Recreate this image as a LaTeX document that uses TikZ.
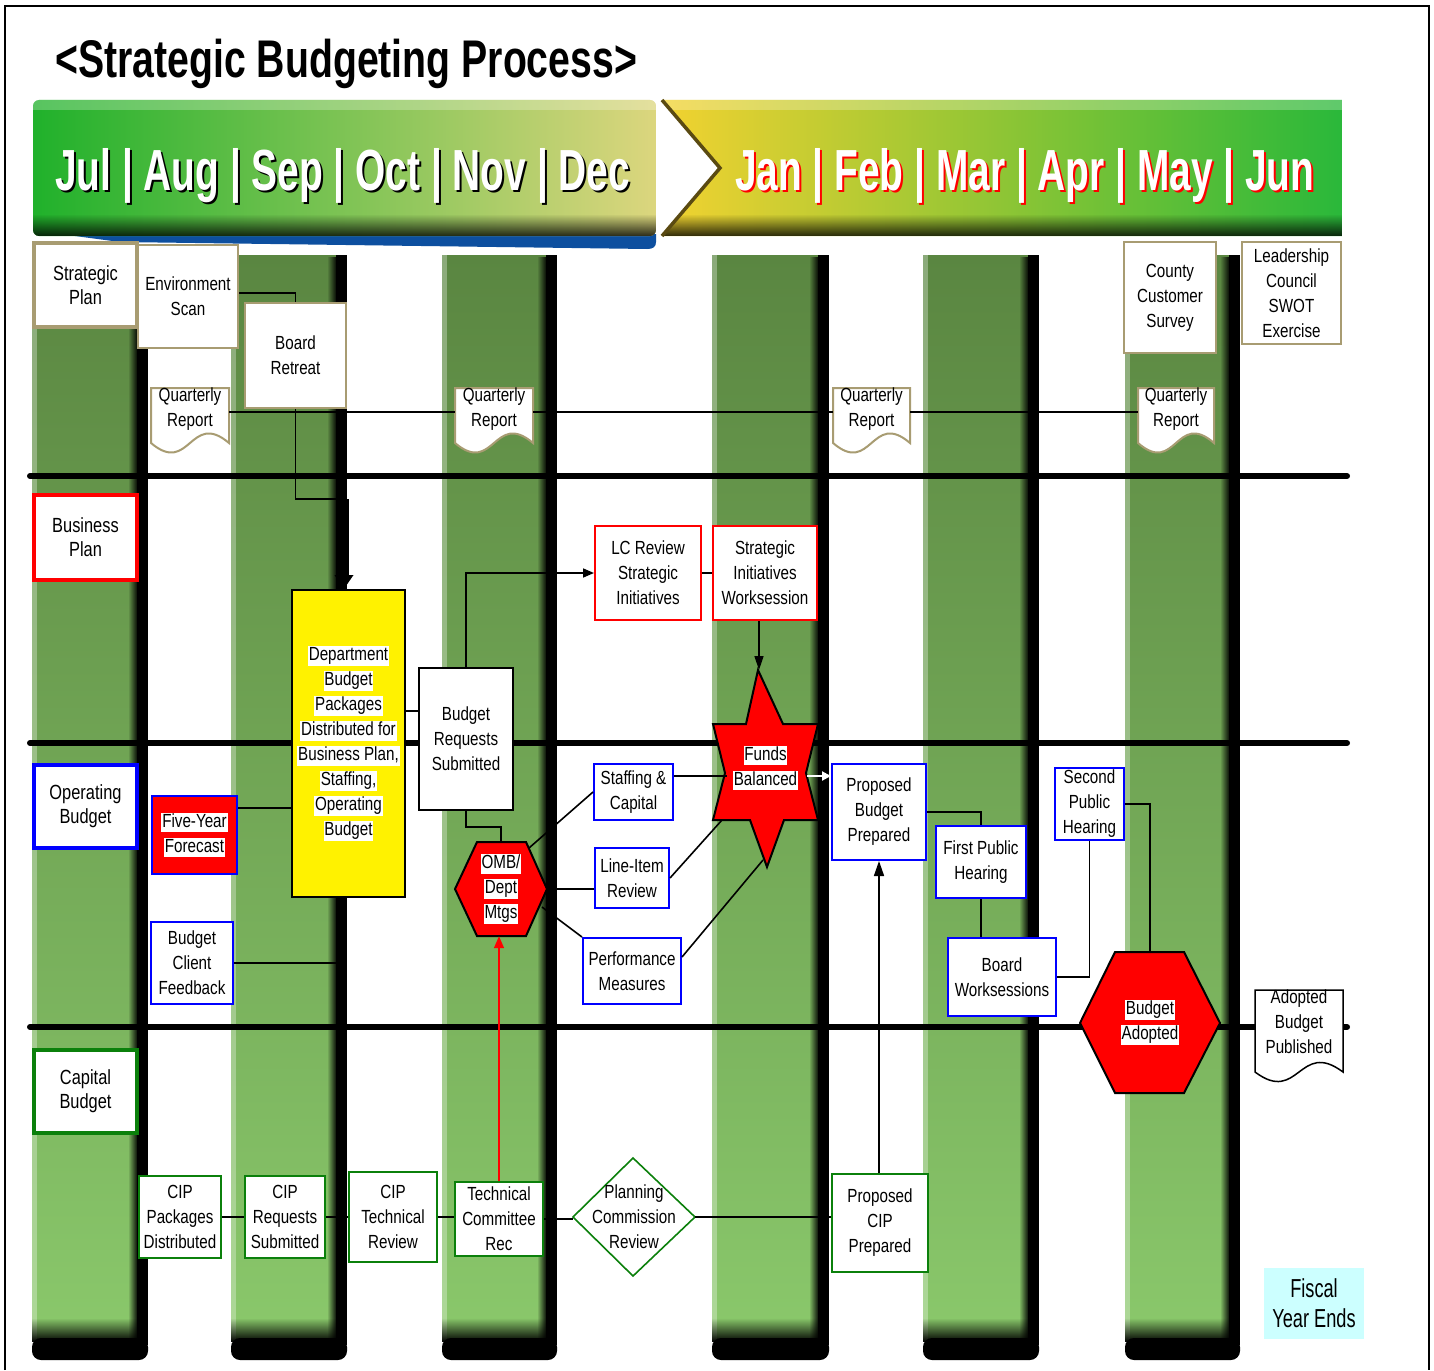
\documentclass[tikz,border=0pt]{standalone}
\usepackage{fontspec}
\setmainfont{Liberation Sans}
\newfontfamily\boxfont{Liberation Sans}[FakeStretch=0.8]
\newfontfamily\narrowfont{Liberation Sans}[FakeStretch=0.7]
\newfontfamily\titlefont{Liberation Sans}[FakeStretch=0.74]
\newfontfamily\monthfont{Liberation Sans}[FakeStretch=0.67]
\usetikzlibrary{calc,arrows.meta,fadings}

\definecolor{khaki}{HTML}{A89C72}
\definecolor{coltop}{HTML}{5A8641}
\definecolor{colbot}{HTML}{8AC86B}
\definecolor{bnA}{HTML}{20B12B}
\definecolor{bnB}{HTML}{8EC657}
\definecolor{bnC}{HTML}{DCD67E}
\definecolor{yA}{HTML}{F2D230}
\definecolor{yB}{HTML}{9CCA3E}
\definecolor{yC}{HTML}{2AB83A}
\definecolor{bandblue}{HTML}{0D4F9F}
\definecolor{boxgreen}{HTML}{0B800B}
\definecolor{fiscal}{HTML}{CCFFFF}
\definecolor{notch}{HTML}{5A4A12}

\tikzfading[name=darkright, left color=transparent!100, right color=transparent!0]
\tikzfading[name=darkdown, top color=transparent!100, bottom color=transparent!0]

% white strip behind a line of text
\newcommand\whitebg[1]{{\setlength{\fboxsep}{0.8pt}\colorbox{white}{\rule[-0.22em]{0pt}{0.95em}#1}}}

% one green time column with its dark right edge and rounded foot
\newcommand\lanecol[2]{%
  \shade[top color=coltop, bottom color=colbot] (#1,255) rectangle (#2,1340);
  \fill[white, opacity=0.3] (#1,255) rectangle ({#1+5},1340);
  \fill[black, path fading=darkright] ({#2-9},255) rectangle ({#2+1},1340);
  \fill[black, path fading=darkdown] (#1,1318) rectangle ({#2+1},1342);
  \fill[black] (#2,255) rectangle ({#2+11},1345);
  \fill[black, rounded corners=9] (#1,1338) rectangle ({#2+11},1360);
}

% document symbol: x-left, x-right, top, height of the bottom corners, style
\newcommand\docshape[5]{%
  \filldraw[#5] (#1,#3) -- (#2,#3) -- (#2,#4)
    .. controls ({(#1+#2)/2},{#4-33}) and ({(#1+#2)/2},{#4+33}) .. (#1,#4) -- cycle;}

\tikzset{
  boxtext/.style={inner sep=0pt, align=center, font=\boxfont\fontsize{19}{25}\selectfont},
  lanetext/.style={inner sep=0pt, align=center, font=\boxfont\fontsize{20.5}{24}\selectfont},
  kbox/.style={boxtext, draw=khaki, fill=white, line width=2.5},
  rbox/.style={boxtext, draw=red, fill=white, line width=2},
  bbox/.style={boxtext, draw=blue, fill=white, line width=2},
  gbox/.style={boxtext, draw=boxgreen, fill=white, line width=2},
  blackbox/.style={boxtext, draw=black, fill=white, line width=2},
  doctext/.style={boxtext},
  lanerule/.style={line width=6, line cap=round},
  conn/.style={line width=1.6, black},
  tip/.style={-{Triangle[width=9pt,length=11pt]}},
}

\begin{document}
\begin{tikzpicture}[x=1pt, y=-1pt]
\useasboundingbox (0,0) rectangle (1434,1370);
\fill[white] (0,0) rectangle (1434,1370);

% ---------- time columns ----------
\lanecol{32}{137}
\lanecol{231}{336}
\lanecol{442}{546}
\lanecol{712}{818}
\lanecol{923}{1028}
\lanecol{1125}{1229}

% ---------- title ----------
\node[anchor=base west, inner sep=0, font=\titlefont\bfseries\fontsize{53}{53}\selectfont] (title) at (55,78) {<Strategic Budgeting Process>};

% ---------- first half-year banner ----------
\fill[bandblue] (60,234) -- (656,234) -- (656,242) .. controls (656,247) and (653,249) .. (647,249) -- (120,242) -- cycle;
\begin{scope}
  \clip[rounded corners=6] (33,100) rectangle (656,236);
  \shade[left color=bnA, middle color=bnB, right color=bnC] (33,100) rectangle (656,236);
  \fill[white, opacity=0.25] (33,100) rectangle (656,110);
  \fill[black, path fading=darkdown, opacity=0.8] (33,214) rectangle (656,236);
\end{scope}
\node[anchor=base west, inner sep=0, font=\monthfont\bfseries\fontsize{58}{58}\selectfont, text=black] (monthsAshade) at (57,192) {Jul | Aug | Sep | Oct | Nov | Dec};
\node[anchor=base west, inner sep=0, font=\monthfont\bfseries\fontsize{58}{58}\selectfont, text=white] (monthsA) at (55,190) {Jul | Aug | Sep | Oct | Nov | Dec};

% ---------- second half-year banner ----------
\begin{scope}
  \clip (662,100) -- (1342,100) -- (1342,236) -- (662,236) -- (720,168) -- cycle;
  \shade[left color=yA, middle color=yB, right color=yC] (662,100) rectangle (1342,236);
  \fill[white, opacity=0.25] (662,100) rectangle (1342,110);
  \fill[black, path fading=darkdown, opacity=0.8] (662,214) rectangle (1342,236);
\end{scope}
\draw[notch, line width=3.5] (662,100) -- (720,168) -- (662,236);
\node[anchor=base west, inner sep=0, font=\monthfont\bfseries\fontsize{58}{58}\selectfont, text=red] (monthsBshade) at (737,192) {Jan | Feb | Mar | Apr | May | Jun};
\node[anchor=base west, inner sep=0, font=\monthfont\bfseries\fontsize{58}{58}\selectfont, text=white] (monthsB) at (735,190) {Jan | Feb | Mar | Apr | May | Jun};

% ---------- lane rules ----------
\draw[lanerule] (30,476) -- (1347,476);
\draw[lanerule] (30,743) -- (1347,743);
\draw[lanerule] (30,1027) -- (1347,1027);

% ---------- strategic plan lane ----------
\node[kbox, line width=4, minimum width=103, minimum height=84, lanetext] (stratplan) at (85.5,285) {Strategic\\Plan};
\node[kbox, minimum width=100, minimum height=103] (envscan) at (188,296.5) {Environment\\Scan};
\node[kbox, minimum width=101, minimum height=105] (retreat) at (295.5,355.5) {Board\\Retreat};
\node[kbox, minimum width=92, minimum height=111] (county) at (1170,297.5) {County\\Customer\\Survey};
\node[kbox, minimum width=99, minimum height=102] (leader) at (1291.5,293) {Leadership\\Council\\SWOT\\Exercise};

\docshape{151}{229}{388}{443}{draw=khaki, fill=white, line width=2}
\node[doctext, minimum width=78] (qr1) at (190,409) {Quarterly\\Report};
\docshape{455}{533}{388}{443}{draw=khaki, fill=white, line width=2}
\node[doctext, minimum width=78] (qr2) at (494,409) {Quarterly\\Report};
\docshape{833}{910}{388}{443}{draw=khaki, fill=white, line width=2}
\node[doctext, minimum width=77] (qr3) at (871.5,409) {Quarterly\\Report};
\docshape{1138}{1214}{388}{443}{draw=khaki, fill=white, line width=2}
\node[doctext, minimum width=76] (qr4) at (1176,409) {Quarterly\\Report};

% ---------- business plan lane ----------
\node[rbox, line width=4, minimum width=103, minimum height=85, lanetext] (busplan) at (85.5,537.5) {Business\\Plan};
\node[rbox, minimum width=106, minimum height=94] (lcrev) at (648,573) {LC Review\\Strategic\\Initiatives};
\node[rbox, minimum width=104, minimum height=94] (siw) at (765,573) {Strategic\\Initiatives\\Worksession};
\node[blackbox, fill=yellow, minimum width=113, minimum height=307] (dept) at (348.5,743.5)
  {\whitebg{Department}\\\whitebg{Budget}\\\whitebg{Packages}\\\whitebg{Distributed for}\\\whitebg{Business Plan,}\\\whitebg{Staffing,}\\\whitebg{Operating}\\\whitebg{Budget}};
\node[blackbox, minimum width=94, minimum height=142] (breq) at (466,739) {Budget\\Requests\\Submitted};

% ---------- operating budget lane ----------
\node[bbox, line width=4, minimum width=103, minimum height=83, lanetext] (opbud) at (85.5,806.5) {Operating\\Budget};
\node[bbox, fill=red, minimum width=85, minimum height=78] (fiveyr) at (194.5,835) {\whitebg{Five-Year}\\\whitebg{Forecast}};
\node[bbox, minimum width=82, minimum height=82] (feedback) at (192,963) {Budget\\Client\\Feedback};

\filldraw[fill=red, draw=black, line width=2] (477,842) -- (526,842) -- (547,889) -- (526,936) -- (477,936) -- (455,889) -- cycle;
\node[boxtext, minimum width=92, minimum height=94] (omb) at (501,889) {\whitebg{OMB/}\\\whitebg{Dept}\\\whitebg{Mtgs}};

\node[bbox, minimum width=79, minimum height=56] (staff) at (633.5,792) {Staffing \&\\Capital};
\node[bbox, minimum width=74, minimum height=60] (lineitem) at (632,878) {Line-Item\\Review};
\node[bbox, minimum width=98, minimum height=66] (perf) at (632,971) {Performance\\Measures};

\filldraw[fill=red, draw=black, line width=2] (758,670) -- (783,724) -- (818,724) -- (806,773) -- (818,820) -- (784,820)
  -- (767,867) -- (750,820) -- (713,820) -- (725,773) -- (713,724) -- (746,724) -- cycle;
\node[boxtext, minimum width=105, minimum height=197] (funds) at (765.5,768) {\whitebg{Funds}\\\whitebg{Balanced}};

\node[bbox, minimum width=94, minimum height=96] (pbp) at (879,812) {Proposed\\Budget\\Prepared};
\node[bbox, minimum width=90, minimum height=72] (fph) at (981,862) {First Public\\Hearing};
\node[bbox, minimum width=108, minimum height=78] (bw) at (1002,977) {Board\\Worksessions};
\node[bbox, minimum width=69, minimum height=72] (sph) at (1089.5,804) {Second\\Public\\Hearing};

\filldraw[fill=red, draw=black, line width=2] (1115,952) -- (1184,952) -- (1220,1023) -- (1184,1093) -- (1115,1093) -- (1080,1023) -- cycle;
\node[boxtext, minimum width=140, minimum height=141] (adopt) at (1150,1022.5) {\whitebg{Budget}\\\whitebg{Adopted}};

\docshape{1255}{1343}{990}{1072}{draw=black, fill=white, line width=1.5}
\node[doctext, minimum width=88] (adoptdoc) at (1299,1022) {Adopted\\Budget\\Published};

% ---------- capital budget lane ----------
\node[gbox, line width=4, minimum width=103, minimum height=83, lanetext] (capbud) at (85.5,1091.5) {Capital\\Budget};
\node[gbox, minimum width=82, minimum height=82] (cippack) at (180,1217) {CIP\\Packages\\Distributed};
\node[gbox, minimum width=80, minimum height=82] (cipreq) at (285,1217) {CIP\\Requests\\Submitted};
\node[gbox, minimum width=88, minimum height=90] (ciptech) at (393,1217) {CIP\\Technical\\Review};
\node[gbox, minimum width=88, minimum height=74] (tcr) at (499,1219) {Technical\\Committee\\Rec};
\filldraw[fill=white, draw=boxgreen, line width=1.6] (573,1217) -- (633,1158) -- (695,1217) -- (633,1276) -- cycle;
\node[boxtext, minimum width=122, minimum height=118] (plan) at (634,1217) {Planning\\Commission\\Review};
\node[gbox, minimum width=96, minimum height=98] (pcip) at (880,1223) {Proposed\\CIP\\Prepared};

\node[fill=fiscal, minimum width=100, minimum height=71, inner sep=0, align=center, font=\narrowfont\fontsize{26}{30}\selectfont] (fiscal) at (1314,1303.5) {Fiscal\\Year Ends};

% ---------- connectors ----------
\coordinate (yqr) at (0,412);
\coordinate (yreq) at (0,711);
\coordinate (yfive) at (0,808);
\coordinate (ywhite) at (0,776);
\coordinate (yenv) at (0,293);
\coordinate (deptarrow) at (344,499);
\coordinate (fbend) at (346,963);
\coordinate (startop) at (759,670);
\coordinate (starwl) at (727,776);
\coordinate (starll) at (722,820);
\coordinate (starbot) at (763,860);
\coordinate (starright) at (807,776);

\draw[conn] (envscan.east |- yenv) -| (retreat.north);
\draw[conn] (qr1.east |- yqr) -- (qr2.west |- yqr);
\draw[conn] (qr2.east |- yqr) -- (qr3.west |- yqr);
\draw[conn] (qr3.east |- yqr) -- (qr4.west |- yqr);
\draw[conn] (retreat.south) |- (deptarrow);
\draw[line width=9, -{Triangle[width=18pt,length=14pt]}] (deptarrow) -- (deptarrow |- dept.north);

\draw[conn, tip] (breq.north) |- (lcrev.west);
\draw[conn] (lcrev.east) -- (siw.west);
\draw[conn, -{Triangle[width=9pt,length=14pt]}] (siw.south -| startop) -- (startop);
\draw[conn] (dept.east |- yreq) -- (breq.west |- yreq);
\draw[conn] (fiveyr.east |- yfive) -- (dept.west |- yfive);
\draw[conn] (feedback.east) -- (fbend);
\draw[conn] (breq.south) -- ++(0,16) -| (omb.north);
\draw[conn] ($(omb.center)+(28,-41)$) -- (staff.west);
\draw[conn] (omb.east) -- (omb.east -| lineitem.west);
\draw[conn] ($(omb.center)+(41,18)$) -- (perf.north west);
\draw[conn] (staff.east |- starwl) -- (starwl);
\draw[conn] (lineitem.east) -- (starll);
\draw[conn] ([yshift=14pt]perf.east) -- (starbot);
\draw[white, line width=2, -{Triangle[width=9pt,length=9pt]}] (starright) -- (pbp.west |- ywhite);

\draw[conn] (pbp.east) -| (fph.north);
\draw[conn] (fph.south) -- (fph.south |- bw.north);
\draw[conn] (bw.east) -| (sph.south);
\draw[conn] (sph.east) -| (adopt.north);
\draw[conn, -{Triangle[width=10pt,length=15pt]}] (pcip.north -| pbp.south) -- (pbp.south);
\draw[red, line width=1.5, -{Triangle[width=10pt,length=12pt]}] (tcr.north) -- (tcr.north |- omb.south);

\draw[conn] (cippack.east) -- (cippack.east -| cipreq.west);
\draw[conn] (cipreq.east) -- (cipreq.east -| ciptech.west);
\draw[conn] (ciptech.east) -- (ciptech.east -| tcr.west);
\draw[conn] (tcr.east) -- (tcr.east -| plan.west);
\draw[conn] (plan.east) -- (plan.east -| pcip.west);

% ---------- frame ----------
\draw[line width=2.5] (5,1370) -- (5,6) -- (1429,6) -- (1429,1370);
\end{tikzpicture}
\end{document}
